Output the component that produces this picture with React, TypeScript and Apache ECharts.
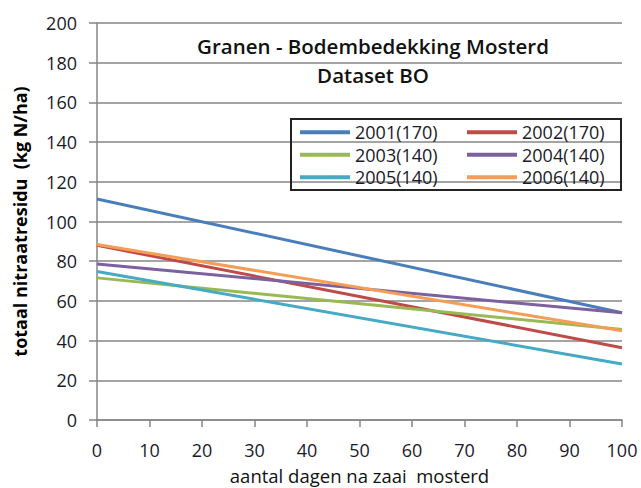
import React, { useEffect, useRef } from "react";
import * as echarts from "echarts";

const seriesNames = ["2001(170)", "2002(170)", "2003(140)", "2004(140)", "2005(140)", "2006(140)"];
const seriesColors = ["#4A7EBB", "#BE4B48", "#98B954", "#7D60A0", "#46AAC5", "#F59D56"];
const xDays = [0, 100];
const values2001 = [111.3, 54];
const values2002 = [88, 36.4];
const values2003 = [71.6, 45.6];
const values2004 = [78.6, 54];
const values2005 = [74.8, 28.2];
const values2006 = [88.4, 45];
const allValues = [values2001, values2002, values2003, values2004, values2005, values2006];

const FONT = "'Open Sans', 'Liberation Sans', sans-serif";

export default function App() {
  const ref = useRef<HTMLDivElement>(null);
  useEffect(() => {
    if (!ref.current) return;
    const chart = echarts.init(ref.current, undefined, { renderer: "svg" });
    const series = seriesNames.map((name, i) => ({
      name,
      type: "line",
      symbol: "none",
      data: xDays.map((x, j) => [x, allValues[i][j]]),
      lineStyle: { color: seriesColors[i], width: 3 },
      itemStyle: { color: seriesColors[i] },
    }));
    const legendCommon = {
      orient: "vertical",
      top: 121,
      padding: 0,
      itemWidth: 50,
      itemHeight: 4,
      itemGap: 0,
      icon: "rect",
      textStyle: { fontFamily: FONT, fontSize: 18, color: "#1a1a2a", lineHeight: 22.5 },
    };
    chart.setOption({
      animation: false,
      backgroundColor: "#ffffff",
      title: {
        text: "Granen - Bodembedekking Mosterd\nDataset BO",
        left: 368,
        top: 26,
        textAlign: "center",
        textStyle: { fontFamily: FONT, fontSize: 20.5, fontWeight: 600, color: "#111", lineHeight: 29 },
      },
      legend: [
        { ...legendCommon, left: 300, data: [seriesNames[0], seriesNames[2], seriesNames[4]] },
        { ...legendCommon, left: 467, data: [seriesNames[1], seriesNames[3], seriesNames[5]] },
      ],
      graphic: [
        {
          type: "rect",
          shape: { x: 291, y: 119, width: 330, height: 71 },
          style: { fill: "none", stroke: "#222", lineWidth: 2 },
          z: 10,
        },
      ],
      grid: { left: 97, right: 19, top: 23, bottom: 68, outerBoundsMode: "none", containLabel: false },
      xAxis: {
        type: "value",
        min: 0,
        max: 100,
        interval: 10,
        name: "aantal dagen na zaai  mosterd",
        nameLocation: "middle",
        nameGap: 46,
        nameMoveOverlap: false,
        nameTextStyle: { fontFamily: FONT, fontSize: 18.5, color: "#111", lineHeight: 19 },
        axisLine: { show: true, lineStyle: { color: "#868686", width: 1.5 } },
        axisTick: { show: true, length: 7, lineStyle: { color: "#868686", width: 1.5 } },
        splitLine: { show: false },
        axisLabel: { margin: 21, fontFamily: FONT, fontSize: 18, color: "#1a1a2a", lineHeight: 18 },
      },
      yAxis: {
        type: "value",
        min: 0,
        max: 200,
        interval: 20,
        name: "totaal nitraatresidu  (kg N/ha)",
        nameLocation: "middle",
        nameGap: 68,
        nameMoveOverlap: false,
        nameTextStyle: { fontFamily: FONT, fontSize: 18, fontWeight: "bold", color: "#000" },
        axisLine: { show: true, lineStyle: { color: "#868686", width: 1.5 } },
        axisTick: { show: true, length: 8, lineStyle: { color: "#868686", width: 1.5 } },
        splitLine: { show: true, lineStyle: { color: "#868686", width: 1.5 } },
        axisLabel: { margin: 20, fontFamily: FONT, fontSize: 18, color: "#1a1a2a" },
      },
      series,
    });
    return () => chart.dispose();
  }, []);
  return <div ref={ref} style={{ width: 641, height: 488, position: "absolute", left: 0, top: 0 }} />;
}
